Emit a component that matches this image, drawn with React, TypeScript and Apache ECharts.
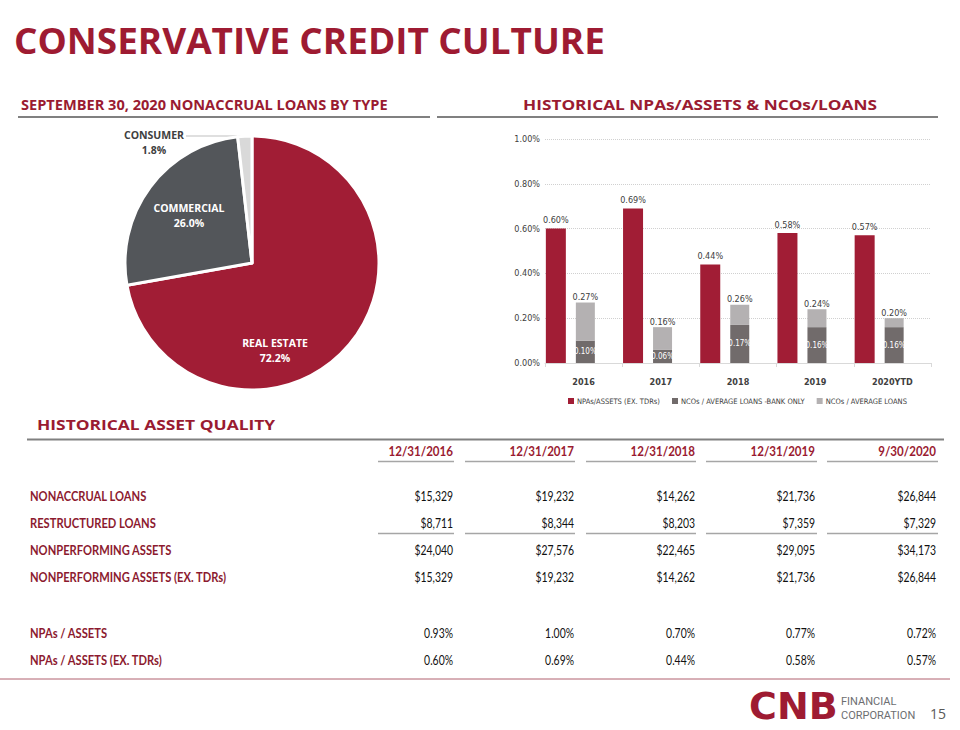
import React, { useEffect, useRef } from 'react';
import * as echarts from 'echarts';

// ---------- DATA ----------
const pieCategories = ['REAL ESTATE', 'COMMERCIAL', 'CONSUMER'];
const pieValues = [72.2, 26.0, 1.8];

const years = ['2016', '2017', '2018', '2019', '2020YTD'];
const npaExTdrSeries = [0.6, 0.69, 0.44, 0.58, 0.57];
const ncoBankOnly = [0.1, 0.06, 0.17, 0.16, 0.16];
const ncoTotal = [0.27, 0.16, 0.26, 0.24, 0.2];
const barSeriesNames = ['NPAs/ASSETS (EX. TDRs)', 'NCOs / AVERAGE LOANS -BANK ONLY', 'NCOs / AVERAGE LOANS'];

const tableDates = ['12/31/2016', '12/31/2017', '12/31/2018', '12/31/2019', '9/30/2020'];
const rowLabels = [
  'NONACCRUAL LOANS',
  'RESTRUCTURED LOANS',
  'NONPERFORMING ASSETS',
  'NONPERFORMING ASSETS (EX. TDRs)',
  'NPAs / ASSETS',
  'NPAs / ASSETS (EX. TDRs)',
];
const nonaccrualLoans = [15329, 19232, 14262, 21736, 26844];
const restructuredLoans = [8711, 8344, 8203, 7359, 7329];
const nonperformingAssets = [24040, 27576, 22465, 29095, 34173];
const nonperformingExTdr = [15329, 19232, 14262, 21736, 26844];
const npasToAssets = [0.93, 1.0, 0.7, 0.77, 0.72];
const npasToAssetsExTdr = [0.6, 0.69, 0.44, 0.58, 0.57];

// ---------- STYLE / LAYOUT ----------
const RED = '#9e1b32';
const HEAD_RED = '#9a1b31';
const pieColors = ['#a11d35', '#53565a', '#d9d9d9'];
const pieLabelPos = [
  [275, 350],
  [189, 215],
  [154, 142],
];
const pieLabelColors = ['#ffffff', '#ffffff', '#404040'];
const narrow = "'Liberation Sans Narrow', 'DejaVu Sans Condensed', Lato, sans-serif";
const calib = "Lato, 'Open Sans', sans-serif";
const headFont = "'Open Sans', sans-serif";

const colRight = [453, 574, 695, 815, 936];
const colSeg = [
  [378, 454],
  [465, 575],
  [586, 696],
  [706, 817],
  [827, 938],
];
const rowY = [496, 523, 550, 577, 633, 660];

const money = (v: number) => '$' + v.toLocaleString('en-US');
const pct = (v: number) => v.toFixed(2) + '%';

function buildGraphics() {
  const g: any[] = [];
  const text = (x: number, y: number, t: string, o: any = {}) =>
    g.push({
      type: 'text',
      x,
      y,
      scaleX: o.scaleX ?? 1,
      style: {
        text: t,
        fill: o.fill ?? '#000',
        font: `${o.weight ?? 'normal'} ${o.size ?? 12}px ${o.family ?? calib}`,
        textAlign: o.align ?? 'left',
        textVerticalAlign: 'middle',
      },
    });
  const line = (x1: number, y1: number, x2: number, y2: number, stroke: string, w: number) =>
    g.push({ type: 'line', shape: { x1, y1, x2, y2 }, style: { stroke, lineWidth: w } });

  text(14, 40, 'CONSERVATIVE CREDIT CULTURE', { size: 36, weight: 'bold', family: headFont, fill: RED, scaleX: 1.025 });
  text(21, 104, 'SEPTEMBER 30, 2020 NONACCRUAL LOANS BY TYPE', { size: 15, weight: 'bold', family: headFont, fill: HEAD_RED, scaleX: 0.973 });
  text(523, 104, 'HISTORICAL NPAs/ASSETS & NCOs/LOANS', { size: 15, weight: 'bold', family: headFont, fill: HEAD_RED, scaleX: 1.15 });
  line(18, 117, 430, 117, '#808080', 2);
  line(437, 117, 938, 117, '#808080', 2);

  text(37, 424, 'HISTORICAL ASSET QUALITY', { size: 15, weight: 'bold', family: headFont, fill: HEAD_RED, scaleX: 1.16 });
  line(27, 439.5, 944, 439.5, '#808080', 2);

  tableDates.forEach((d, i) =>
    text(colRight[i], 451, d, { size: 13, weight: 'bold', fill: HEAD_RED, align: 'right', scaleX: 0.89 })
  );
  colSeg.forEach(([a, b]) => {
    line(a, 461.5, b, 461.5, '#a6a6a6', 1.5);
    line(a, 533.5, b, 533.5, '#a6a6a6', 1.5);
  });
  rowLabels.forEach((l, r) => text(30, rowY[r], l, { size: 13, weight: 'bold', fill: '#8c1a2f', scaleX: 0.86 }));
  const rows = [
    nonaccrualLoans.map(money),
    restructuredLoans.map(money),
    nonperformingAssets.map(money),
    nonperformingExTdr.map(money),
    npasToAssets.map(pct),
    npasToAssetsExTdr.map(pct),
  ];
  rows.forEach((vals, r) =>
    vals.forEach((v, i) => text(colRight[i], rowY[r], v, { size: 13, fill: '#111', align: 'right', scaleX: 0.8 }))
  );

  line(0, 679, 950, 679, '#b0606e', 1);

  // consumer leader line
  g.push({
    type: 'polyline',
    shape: { points: [[186, 136], [243, 136], [244, 140]] },
    style: { stroke: '#bfbfbf', lineWidth: 1, fill: null },
  });

  // logo
  text(749, 706, 'CNB', { size: 38, weight: 'bold', family: "'DejaVu Sans', sans-serif", fill: RED });
  text(841, 701, 'FINANCIAL', { size: 11, family: "Roboto, 'Liberation Sans', sans-serif", fill: '#6d6e71' });
  text(841, 715, 'CORPORATION', { size: 11, family: "Roboto, 'Liberation Sans', sans-serif", fill: '#6d6e71' });
  text(946, 713, '15', { size: 14, family: headFont, fill: '#595959', align: 'right' });
  return g;
}

export default function App() {
  const ref = useRef<HTMLDivElement>(null);
  useEffect(() => {
    if (!ref.current) return;
    const chart = echarts.init(ref.current, undefined, { renderer: 'svg' });
    const ncoRest = ncoTotal.map((t, i) => +(t - ncoBankOnly[i]).toFixed(2));
    const option: any = {
      animation: false,
      backgroundColor: '#ffffff',
      textStyle: { fontFamily: narrow },
      grid: { left: 545, right: 29, top: 139, bottom: 367, containLabel: false },
      legend: {
        data: barSeriesNames,
        left: 563,
        top: 392,
        width: 390,
        icon: 'rect',
        itemWidth: 6,
        itemHeight: 6,
        itemGap: 12,
        textStyle: { fontSize: 7.5, color: '#404040', fontFamily: narrow, padding: [0, 0, 0, -2] },
      },
      xAxis: {
        type: 'category',
        data: years,
        axisLine: { lineStyle: { color: '#d9d9d9' } },
        axisTick: { show: true, length: 4, lineStyle: { color: '#d9d9d9' } },
        axisLabel: { fontSize: 9, fontWeight: 'bold', color: '#404040', margin: 14, fontFamily: narrow },
      },
      yAxis: {
        type: 'value',
        min: 0,
        max: 1,
        interval: 0.2,
        axisLine: { show: false },
        axisTick: { show: false },
        axisLabel: { fontSize: 9, color: '#404040', margin: 5, fontFamily: narrow, formatter: (v: number) => v.toFixed(2) + '%' },
        splitLine: { lineStyle: { color: '#d0d0d0', type: 'dotted' } },
      },
      series: [
        {
          type: 'pie',
          center: [252, 263],
          radius: 127,
          startAngle: 90,
          clockwise: true,
          itemStyle: { borderColor: '#fff', borderWidth: 3 },
          data: pieCategories.map((n, i) => ({
            name: n,
            value: pieValues[i],
            itemStyle: { color: pieColors[i] },
            label: { color: pieLabelColors[i] },
          })),
          label: {
            show: true,
            position: 'inside',
            formatter: (p: any) => `{n|${p.name}}\n{p|${p.value.toFixed(1)}%}`,
            rich: {
              n: { fontSize: 10.5, fontWeight: 'bold', fontFamily: headFont, lineHeight: 15 },
              p: { fontSize: 10.5, fontWeight: 'bold', fontFamily: headFont, lineHeight: 15 },
            },
          },
          labelLine: { show: false },
          labelLayout: (params: any) => ({
            x: pieLabelPos[params.dataIndex][0],
            y: pieLabelPos[params.dataIndex][1],
            align: 'center',
            verticalAlign: 'middle',
          }),
          emphasis: { disabled: true },
        },
        {
          name: barSeriesNames[0],
          type: 'bar',
          data: npaExTdrSeries,
          barWidth: 20,
          barGap: '50%',
          itemStyle: { color: '#a11d35' },
          label: { show: true, position: 'top', distance: 4, fontSize: 9, color: '#404040', fontFamily: narrow, formatter: (p: any) => pct(p.value) },
        },
        {
          name: barSeriesNames[1],
          type: 'bar',
          stack: 'nco',
          data: ncoBankOnly,
          barWidth: 19,
          barGap: '50%',
          itemStyle: { color: '#716b6b' },
          label: { show: true, position: 'inside', overflow: 'none', fontSize: 8, color: '#ffffff', fontFamily: narrow, formatter: (p: any) => pct(p.value) },
        },
        {
          name: barSeriesNames[2],
          type: 'bar',
          stack: 'nco',
          data: ncoRest,
          barWidth: 19,
          barGap: '50%',
          itemStyle: { color: '#b4b1b2' },
          label: { show: true, position: 'top', distance: 1, fontSize: 9, color: '#404040', fontFamily: narrow, formatter: (p: any) => pct(ncoTotal[p.dataIndex]) },
        },
        {
          name: 'spacer',
          type: 'bar',
          data: years.map(() => 0),
          barWidth: 17,
          barGap: '50%',
          itemStyle: { color: 'rgba(0,0,0,0)' },
          silent: true,
        },
      ],
      graphic: buildGraphics(),
    };
    chart.setOption(option);
    return () => chart.dispose();
  }, []);
  return <div ref={ref} style={{ position: 'fixed', left: 0, top: 0, width: 960, height: 730, background: '#fff' }} />;
}
